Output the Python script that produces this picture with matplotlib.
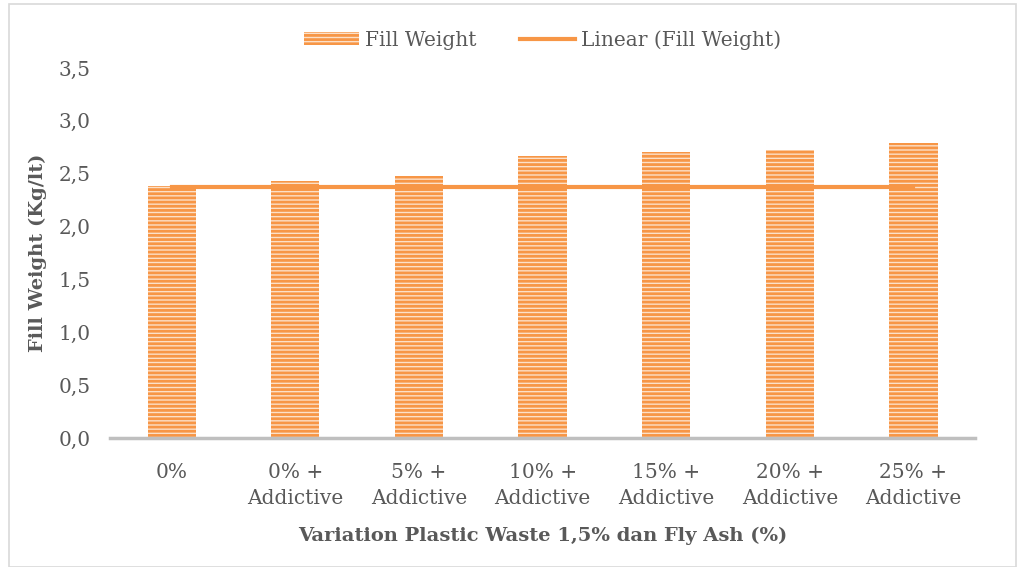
import matplotlib.pyplot as plt
from matplotlib.patches import Rectangle
from matplotlib.ticker import FuncFormatter

# Data
kategori = ["0%", "0% +\nAddictive", "5% +\nAddictive", "10% +\nAddictive",
            "15% +\nAddictive", "20% +\nAddictive", "25% +\nAddictive"]
fill_weight = [2.38, 2.43, 2.48, 2.67, 2.71, 2.72, 2.79]
tren_linear = [2.37, 2.37]  # nilai awal dan akhir garis tren

ORANYE = "#F79646"
ORANYE_MUDA = "#FCE0C8"
ABU = "#595959"

plt.rcParams["font.family"] = ["DejaVu Serif"]
plt.rcParams["hatch.linewidth"] = 2.0

fig = plt.figure(figsize=(10.17, 5.67), dpi=100)
ax = fig.add_axes([0.108, 0.2275, 0.851, 0.6525])

x = range(len(kategori))
batang = ax.bar(x, fill_weight, width=0.39, color=ORANYE_MUDA, edgecolor=ORANYE,
                hatch="----", linewidth=0, label="Fill Weight")
garis, = ax.plot([0, len(kategori) - 1], tren_linear, color=ORANYE, linewidth=3,
                 label="Linear (Fill Weight)")

ax.set_xlim(-0.5, len(kategori) - 0.5)
ax.set_ylim(0, 3.5)
ax.set_yticks([i * 0.5 for i in range(8)])
ax.yaxis.set_major_formatter(FuncFormatter(lambda v, p: f"{v:.1f}".replace(".", ",")))
ax.set_xticks(list(x))
ax.set_xticklabels(kategori)
ax.tick_params(length=0, labelsize=14.5, colors=ABU)
ax.tick_params(axis="x", pad=18)
ax.tick_params(axis="y", pad=14)
for lbl in ax.get_xticklabels():
    lbl.set_linespacing(1.45)

for s in ["top", "right", "left"]:
    ax.spines[s].set_visible(False)
ax.spines["bottom"].set_color("#BFBFBF")
ax.spines["bottom"].set_linewidth(2.5)

ax.set_ylabel("Fill Weight (Kg/lt)", fontsize=14, fontweight="bold", color=ABU, labelpad=8)
ax.set_xlabel("Variation Plastic Waste 1,5% dan Fly Ash (%)", fontsize=14,
              fontweight="bold", color=ABU, labelpad=14)

ax.legend([batang, garis], ["Fill Weight", "Linear (Fill Weight)"],
          loc="lower center", bbox_to_anchor=(0.5, 1.0), ncol=2, frameon=False,
          fontsize=14.5, labelcolor=ABU, handlelength=2.7, handleheight=0.6,
          columnspacing=2.2, handletextpad=0.3)

# bingkai tipis di sekeliling grafik
fig.patches.append(Rectangle((0.009, 0.0), 0.99, 0.993, transform=fig.transFigure,
                             fill=False, edgecolor="#D9D9D9", linewidth=1.2))

fig.savefig("out.png", dpi=100)
